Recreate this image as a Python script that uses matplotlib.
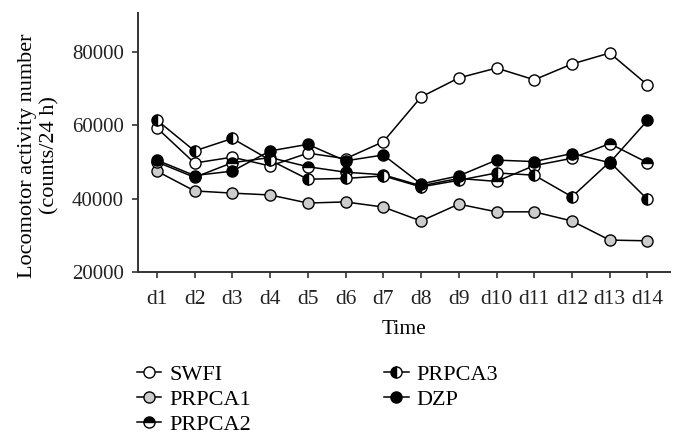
import numpy as np
import matplotlib
matplotlib.use("Agg")
import matplotlib.pyplot as plt

# data
days = ['d1', 'd2', 'd3', 'd4', 'd5', 'd6', 'd7', 'd8', 'd9', 'd10', 'd11', 'd12', 'd13', 'd14']
swfi = [59300, 49700, 51300, 48900, 52400, 50900, 55500, 67700, 72900, 75600, 72400, 76700, 79700, 71000]
prpca1 = [47500, 42100, 41500, 41000, 38800, 39100, 37700, 33900, 38500, 36400, 36400, 33900, 28700, 28500]
prpca2 = [50000, 45800, 49800, 51200, 48700, 47200, 46500, 43500, 45500, 44700, 49000, 51000, 55000, 49800]
prpca3 = [61400, 53000, 56400, 50500, 45300, 45500, 46200, 43200, 45000, 47000, 46400, 40500, 50000, 39800]
dzp = [50500, 46300, 47500, 53000, 54800, 50300, 51900, 44000, 46200, 50500, 50100, 52300, 49800, 61300]

plt.rcParams['font.family'] = ['Liberation Serif', 'DejaVu Serif']
plt.rcParams['font.size'] = 15.5

fig = plt.figure(figsize=(6.81, 4.44), dpi=100)
ax = fig.add_axes([0.2026, 0.3874, 0.7814, 0.5833])

x = np.arange(len(days))
common = dict(color='black', lw=1.1, marker='o', markersize=8,
              markeredgecolor='black', markeredgewidth=1.0)

ax.plot(x, swfi, markerfacecolor='white', label='SWFI', **common)
ax.plot(x, prpca1, markerfacecolor='#cccccc', label='PRPCA1', **common)
ax.plot(x, prpca2, fillstyle='top', markerfacecolor='black',
        markerfacecoloralt='white', label='PRPCA2', **common)
ax.plot(x, prpca3, fillstyle='left', markerfacecolor='black',
        markerfacecoloralt='white', label='PRPCA3', **common)
ax.plot(x, dzp, markerfacecolor='black', label='DZP', **common)

ax.set_xlim(-0.5, 13.6)
ax.set_ylim(20000, 90600)
ax.set_xticks(x)
ax.set_xticklabels(days)
ax.set_yticks([20000, 40000, 60000, 80000])
ax.tick_params(direction='out', length=4, width=1.1, colors='#222222')
ax.tick_params(axis='x', pad=9)
ax.tick_params(axis='y', pad=6, labelsize=15)
for s in ['top', 'right']:
    ax.spines[s].set_visible(False)
for s in ['left', 'bottom']:
    ax.spines[s].set_linewidth(1.4)
    ax.spines[s].set_color('#333333')

ax.set_xlabel('Time', labelpad=8)
ax.set_ylabel('Locomotor activity number\n(counts/24 h)', fontsize=16)
ax.yaxis.set_label_coords(-0.148, 0.45)

fig.legend(loc='upper left', bbox_to_anchor=(0.201, 0.18), ncol=2, frameon=False,
           fontsize=16, handlelength=1.1, handletextpad=0.35, labelspacing=0.2,
           columnspacing=6.0, borderaxespad=0, borderpad=0)

fig.savefig('out.png', dpi=100)
